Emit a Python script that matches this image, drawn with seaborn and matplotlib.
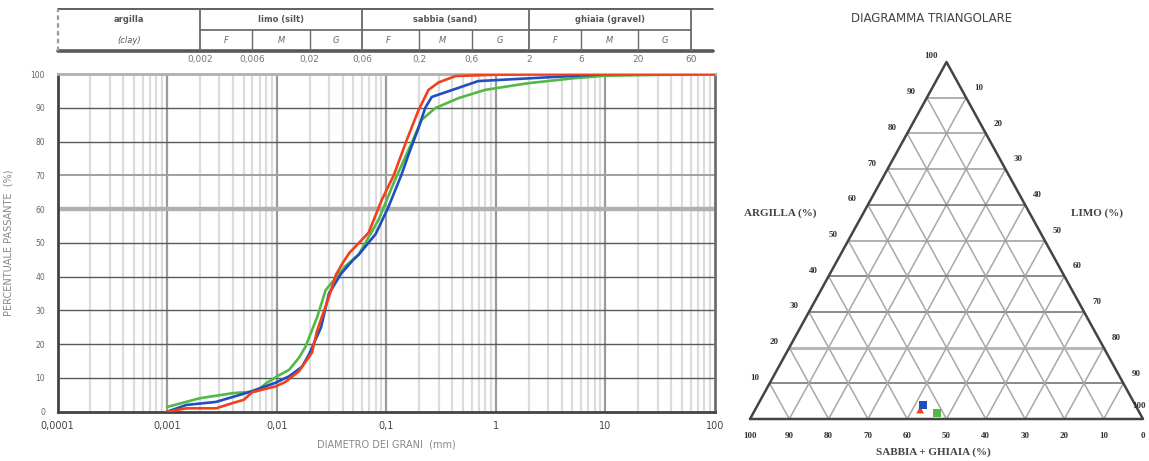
import numpy as np
import pandas as pd
import matplotlib
matplotlib.use("Agg")
import matplotlib.pyplot as plt
import seaborn as sns

# ---------------- data ----------------
red_d = [0.001, 0.0015, 0.0028, 0.004, 0.005, 0.006, 0.0098, 0.012, 0.016, 0.021, 0.0234, 0.0258,
         0.03, 0.0347, 0.04, 0.046, 0.069, 0.091, 0.117, 0.154, 0.197, 0.243, 0.3, 0.43, 1, 10, 100]
red_v = [0, 1, 1, 2.6, 3.5, 5.8, 7.5, 8.8, 12, 17.5, 24, 28,
         34, 40.5, 44, 47, 53, 62.7, 70, 80.5, 89.3, 95.3, 97.5, 99.4, 99.8, 100, 100]
blue_d = [0.001, 0.0015, 0.0028, 0.0056, 0.0098, 0.013, 0.017, 0.0197, 0.0254, 0.030, 0.039, 0.05,
          0.056, 0.08, 0.104, 0.137, 0.165, 0.197, 0.227, 0.26, 0.69, 5.6, 10, 100]
blue_v = [0, 2, 2.9, 5.8, 8.6, 10.5, 13.3, 16.9, 25, 35, 41, 45,
          46.5, 52.6, 60.4, 70, 77.4, 84, 90, 93.2, 97.9, 99.5, 100, 100]
green_d = [0.001, 0.002, 0.004, 0.0065, 0.008, 0.0105, 0.013, 0.016, 0.0183, 0.0234, 0.028, 0.042,
           0.056, 0.085, 0.12, 0.17, 0.21, 0.28, 0.46, 0.8, 2.0, 5, 10, 100]
green_v = [1.4, 4, 5.5, 6, 8.4, 10.8, 12.4, 16, 19.2, 28, 36, 43,
           46.5, 56.8, 68.6, 79.5, 86.4, 89.9, 92.9, 95.3, 97.3, 98.7, 99.5, 100]

samples = ["verde", "blu", "rosso"]
colors = {"rosso": "#f2401e", "blu": "#1f4fbf", "verde": "#52b847"}

x_ticks = [0.0001, 0.001, 0.01, 0.1, 1, 10, 100]
x_ticklabels = ["0,0001", "0,001", "0,01", "0,1", "1", "10", "100"]
y_ticks = list(range(0, 101, 10))

class_bounds = [0.002, 0.006, 0.02, 0.06, 0.2, 0.6, 2, 6, 20, 60]
class_bound_labels = ["0,002", "0,006", "0,02", "0,06", "0,2", "0,6", "2", "6", "20", "60"]
groups = ["argilla", "limo", "sabbia", "ghiaia"]
groups_en = ["(clay)", "(silt)", "(sand)", "(gravel)"]
sub_labels = ["F", "M", "G"]

# ternary: argilla, limo, sabbia+ghiaia (%)
tern_samples = ["rosso", "blu", "verde"]
tern_argilla = [2.6, 4.0, 1.7]
tern_limo = [42.0, 42.0, 46.7]
tern_sabbia = [55.4, 54.0, 51.6]
tern_markers = ["^", "s", "s"]
tern_ticks = [0, 10, 20, 30, 40, 50, 60, 70, 80, 90, 100]

# ---------------- figure ----------------
sns.set_style("white")
plt.rcParams["font.family"] = ["DejaVu Sans"]
W, H = 1149, 461
fig = plt.figure(figsize=(W / 100, H / 100), dpi=100)

def fx(px):
    return px / W

def fy(py):
    return 1 - py / H

# main axes
ax = fig.add_axes([fx(57.5), fy(411.7), fx(715 - 57.5), (411.7 - 74) / H])
ax.set_xscale("log")
ax.set_xlim(1e-4, 100)
ax.set_ylim(0, 100)

# vertical grid
for dec in range(-4, 2):
    for m in range(2, 10):
        ax.axvline(m * 10.0 ** dec, color="#dcdcdc", lw=1.6, zorder=0)
for dec in range(-3, 2):
    ax.axvline(10.0 ** dec, color="#9a9a9a", lw=1.6, zorder=0.5)
# horizontal grid
for yv in [10, 20, 30, 40, 50, 80, 90]:
    ax.axhline(yv, color="#555b5b", lw=1.0, zorder=1)
ax.axhline(70, color="#a0a0a0", lw=1.4, zorder=1)
ax.axhline(60, color="#b0b0b0", lw=3.2, zorder=1)

rows = []
for name, d, v in [("verde", green_d, green_v), ("blu", blue_d, blue_v), ("rosso", red_d, red_v)]:
    for di, vi in zip(d, v):
        rows.append({"campione": name, "d": di, "v": vi})
df = pd.DataFrame(rows)
sns.lineplot(data=df, x="d", y="v", hue="campione", hue_order=samples, palette=colors,
             sort=False, estimator=None, lw=1.9, legend=False, ax=ax, zorder=3)

ax.set_xticks(x_ticks)
ax.set_xticklabels(x_ticklabels, fontsize=7, color="#444444")
ax.xaxis.set_minor_locator(matplotlib.ticker.NullLocator())
ax.set_yticks(y_ticks)
ax.set_yticklabels([str(t) for t in y_ticks], fontsize=5.5, color="#666666")
ax.tick_params(axis="both", length=0)
ax.tick_params(axis="x", pad=7)
ax.tick_params(axis="y", pad=9)
ax.set_xlabel("DIAMETRO DEI GRANI  (mm)", fontsize=7, color="#888888", labelpad=6)
ax.set_ylabel("PERCENTUALE PASSANTE  (%)", fontsize=7, color="#888888", labelpad=12)
for s in ["left", "bottom"]:
    ax.spines[s].set_color("#3f4545")
    ax.spines[s].set_linewidth(2.0)
ax.spines["right"].set_color("#6a6f6f")
ax.spines["right"].set_linewidth(2.0)
ax.spines["top"].set_color("#b0b0b0")
ax.spines["top"].set_linewidth(2.0)

# header table
hx = fig.add_axes([fx(57.5), fy(51), fx(715 - 57.5), 42 / H])
hx.set_xscale("log")
hx.set_xlim(1e-4, 100)
hx.set_ylim(0, 2)
for s in hx.spines.values():
    s.set_visible(False)
hx.plot([1e-4, 95], [2, 2], color="#444444", lw=1.2, clip_on=False)
hx.plot([1e-4, 95], [0, 0], color="#555b5b", lw=2.6, clip_on=False)
hx.plot([0.002, 60], [1, 1], color="#555555", lw=1.1)
hx.plot([1e-4, 1e-4], [0, 2], color="#999999", lw=1.6, ls=(0, (2, 1.5)), clip_on=False)
major_b = [0.002, 0.06, 2, 60]
for b in class_bounds:
    top = 2 if b in major_b else 1
    hx.plot([b, b], [0, top], color="#6a6a6a", lw=1.3 if b in major_b else 1.0)
hx.set_xticks(class_bounds)
hx.set_xticklabels(class_bound_labels, fontsize=6.5, color="#777777")
hx.xaxis.set_minor_locator(matplotlib.ticker.NullLocator())
hx.tick_params(axis="x", length=0, pad=3)
hx.set_yticks([])
edges = [1e-4, 0.002, 0.06, 2, 60]
for i, g in enumerate(groups):
    c = np.sqrt(edges[i] * edges[i + 1])
    if i == 0:
        hx.text(c, 1.5, g, ha="center", va="center", fontsize=6, fontweight="bold", color="#555555")
        hx.text(c, 0.5, groups_en[i], ha="center", va="center", fontsize=6, fontstyle="italic", color="#555555")
    else:
        hx.text(c, 1.5, g + " " + groups_en[i], ha="center", va="center", fontsize=6,
                fontweight="bold", color="#555555")
        sub_edges = [edges[i], edges[i] * 3, edges[i] * 10, edges[i + 1]]
        for j, sl in enumerate(sub_labels):
            sc = np.sqrt(sub_edges[j] * sub_edges[j + 1])
            hx.text(sc, 0.5, sl, ha="center", va="center", fontsize=6, fontstyle="italic", color="#666666")

# ---------------- ternary ----------------
tx = fig.add_axes([fx(750), fy(419), fx(1143 - 750), (419 - 62) / H])
tx.set_xlim(0, 1)
tx.set_ylim(0, 1)
tx.axis("off")

def tern(a, l):
    a = np.asarray(a) / 100.0
    l = np.asarray(l) / 100.0
    return l + a / 2.0, a

grid_c = "#a8a8a8"
for k in range(10, 100, 10):
    # constant argilla (horizontal)
    x0, y0 = tern(k, 0)
    x1, y1 = tern(k, 100 - k)
    hc = "#b8b8b8" if k == 20 else ("#6a6a6a" if k in (10, 30, 40, 60) else "#9a9a9a")
    tx.plot([x0, x1], [y0, y1], color=hc, lw=2.2 if k == 20 else 1.1, zorder=1)
    # constant limo
    x0, y0 = tern(0, k)
    x1, y1 = tern(100 - k, k)
    tx.plot([x0, x1], [y0, y1], color=grid_c, lw=1.1, zorder=1)
    # constant sabbia
    x0, y0 = tern(0, 100 - k)
    x1, y1 = tern(100 - k, 0)
    tx.plot([x0, x1], [y0, y1], color=grid_c, lw=1.1, zorder=1)
tx.plot([0, 1, 0.5, 0], [0, 0, 1, 0], color="#444444", lw=1.8, zorder=2, clip_on=False)

tfont = dict(fontsize=6.5, fontweight="bold", color="#333333", family="Liberation Serif")
for t in tern_ticks[1:]:
    x, y = tern(t, 0)
    tx.annotate(str(t), (x, y), xytext=(-11, 4), textcoords="offset points", ha="center", va="center",
                annotation_clip=False, **tfont)
    x, y = tern(100 - t, t)
    off = (-3, 9) if t == 100 else (9, 7)
    tx.annotate(str(t), (x, y), xytext=off, textcoords="offset points", ha="center", va="center",
                annotation_clip=False, **tfont)
for t in tern_ticks:
    x, y = tern(0, 100 - t)
    tx.annotate(str(t), (x, y), xytext=(0, -12), textcoords="offset points", ha="center", va="center",
                annotation_clip=False, **tfont)

px, py = tern(tern_argilla, tern_limo)
tdf = pd.DataFrame({"campione": tern_samples, "x": px, "y": py})
sns.scatterplot(data=tdf, x="x", y="y", hue="campione", style="campione",
                markers=dict(zip(tern_samples, tern_markers)), palette=colors, s=30,
                edgecolor="none", legend=False, ax=tx, zorder=4, clip_on=False)
tx.set_xlabel("")
tx.set_ylabel("")

fig.text(fx(932), fy(18), "DIAGRAMMA TRIANGOLARE", ha="center", va="center", fontsize=8.5, color="#444444")
fig.text(fx(780), fy(213), "ARGILLA (%)", ha="center", va="center", fontsize=8, fontweight="bold",
         color="#444444", family="Liberation Serif")
fig.text(fx(1097), fy(213), "LIMO (%)", ha="center", va="center", fontsize=8, fontweight="bold",
         color="#444444", family="Liberation Serif")
fig.text(fx(933), fy(452), "SABBIA + GHIAIA (%)", ha="center", va="center", fontsize=8, fontweight="bold",
         color="#444444", family="Liberation Serif")

fig.savefig("out.png", dpi=100)
